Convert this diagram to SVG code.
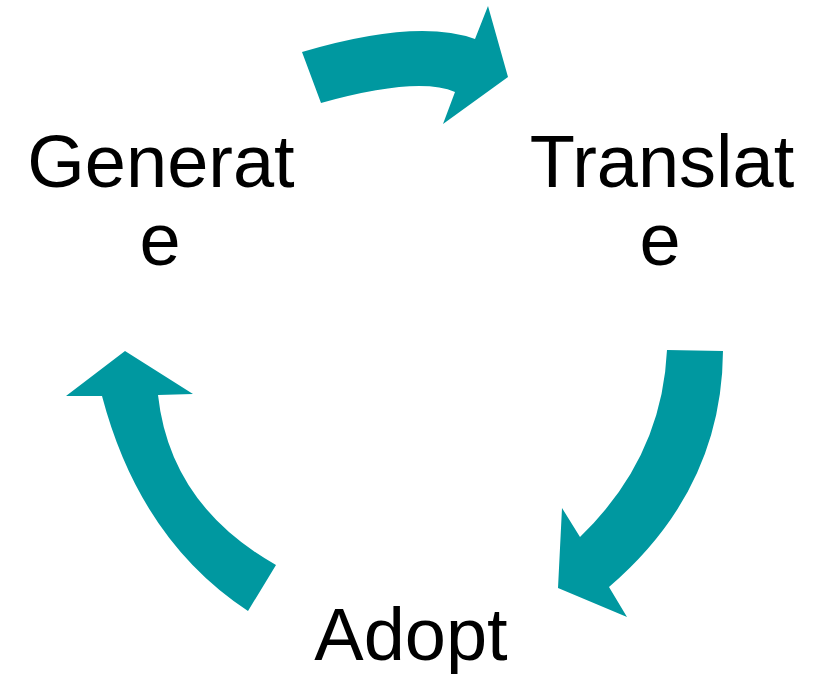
<svg xmlns="http://www.w3.org/2000/svg" width="819" height="674" viewBox="0 0 819 674">
<style>
.arrow{fill:#0098A0;stroke:none}
.label{font-family:"Liberation Sans",Arial,sans-serif;font-size:74px;fill:#000;text-anchor:middle}
</style>
<rect width="819" height="674" fill="#FFFFFF"/>
<g id="connectors">
<path id="arrow-generate-translate" class="arrow" d="M302,52 Q417,18 475,39 L488,6 L508,77 L443,124 L455,92 Q418,76 321,103 Z"/>
<path id="arrow-translate-adopt" class="arrow" d="M667,350 L723,351 Q722,490 609,587 L627,617 L558,588 L562,508 L580,537 Q662,458 667,350 Z"/>
<path id="arrow-adopt-generate" class="arrow" d="M248,611 Q140,540 102,396 L66,396 L125,351 L193,394 L158,395 Q170,505 276,565 Z"/>
</g>
<g id="node-generate">
<text class="label" x="161" y="187">Generat</text>
<text class="label" x="160" y="265">e</text>
</g>
<g id="node-translate">
<text class="label" x="662" y="187">Translat</text>
<text class="label" x="660" y="265">e</text>
</g>
<g id="node-adopt">
<text class="label" x="411" y="660">Adopt</text>
</g>
</svg>
